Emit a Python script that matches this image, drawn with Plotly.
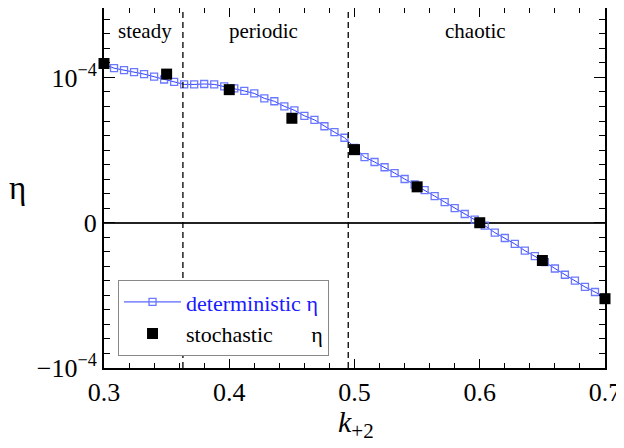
import plotly.graph_objects as go

# deterministic eta, every 0.008 in k_+2 (values in units of 1e-5)
k_det = [round(0.3 + 0.008 * i, 3) for i in range(51)]
eta_det = [10.9, 10.64, 10.5, 10.37, 10.23, 10.05, 9.86, 9.7, 9.52, 9.52,
           9.55, 9.52, 9.38, 9.25, 9.07, 8.9, 8.56, 8.36, 8.01, 7.74,
           7.36, 7.08, 6.64, 6.23, 5.85, 5.15, 4.52, 4.18, 3.82, 3.42,
           3.01, 2.63, 2.24, 1.83, 1.42, 1.01, 0.6, 0.21, -0.2, -0.68,
           -1.05, -1.46, -1.92, -2.3, -2.71, -3.15, -3.58, -3.99, -4.42, -4.77,
           -5.15]

# stochastic eta
k_sto = [0.30, 0.35, 0.40, 0.45, 0.50, 0.55, 0.60, 0.65, 0.70]
eta_sto = [10.96, 10.23, 9.16, 7.19, 5.03, 2.47, 0.0, -2.6, -5.23]

# regime boundaries and labels
bounds = [0.363, 0.495]
regimes = ["steady", "periodic", "chaotic"]
regime_x = [0.333, 0.427, 0.597]

ytick_vals = [-1e-4, 0, 1e-4]
ytick_text = ["\u221210<sup>\u22124</sup>", "0", "10<sup>\u22124</sup>"]

serif = "Liberation Serif, Times New Roman, Times, serif"

fig = go.Figure()
fig.add_trace(go.Scatter(
    x=k_det, y=[v * 1e-5 for v in eta_det], mode="lines+markers",
    name="<span style='color:#1a1aff'>deterministic \u03b7</span>",
    line=dict(color="#3040ff", width=1),
    marker=dict(symbol="square-open", size=7, color="#6a78ff",
                line=dict(width=1.3, color="#6a78ff")),
))
fig.add_trace(go.Scatter(
    x=k_sto, y=[v * 1e-5 for v in eta_sto], mode="markers",
    name="stochastic" + "\u00a0" * 7 + "\u03b7",
    marker=dict(symbol="square", size=11, color="black"),
    cliponaxis=False,
))

for b in bounds:
    fig.add_vline(x=b, line=dict(color="black", width=1.3, dash="6px,4px"))

for name, xr in zip(regimes, regime_x):
    fig.add_annotation(x=xr, y=1.32e-4, text=name, showarrow=False,
                       font=dict(family=serif, size=21, color="black"))

# axis titles placed as annotations
fig.add_annotation(xref="paper", yref="paper", x=-0.172, y=0.5, text="\u03b7",
                   xanchor="center", yanchor="middle", showarrow=False,
                   font=dict(family=serif, size=33, color="black"))
fig.add_annotation(xref="paper", yref="paper", x=0.503, y=-0.155,
                   text="<i>k</i><sub>+2</sub>", xanchor="center", yanchor="middle",
                   showarrow=False, font=dict(family=serif, size=30, color="black"))

fig.update_layout(
    width=616, height=440,
    margin=dict(l=96, r=19, t=0, b=80, autoexpand=False),
    paper_bgcolor="white", plot_bgcolor="white",
    font=dict(family=serif, size=24, color="black"),
    showlegend=True,
    legend=dict(x=0.028, y=0.033, xanchor="left", yanchor="bottom",
                bgcolor="white", bordercolor="#888888", borderwidth=1,
                font=dict(family=serif, size=22), tracegroupgap=0,
                itemwidth=57),
)
fig.update_xaxes(
    range=[0.3, 0.7], dtick=0.1, tick0=0.3, tickformat=".1f",
    showgrid=False, zeroline=False, automargin=False,
    showline=True, linecolor="black", linewidth=2, mirror="allticks",
    ticks="inside", ticklen=9, tickwidth=1.3, tickcolor="black",
    minor=dict(dtick=0.02, tick0=0.3, ticks="inside", ticklen=5, tickcolor="black"),
    tickfont=dict(family=serif, size=26),
)
fig.update_yaxes(
    range=[-1e-4, 1.478e-4], tickmode="array", tickvals=ytick_vals, ticktext=ytick_text,
    showgrid=False, zeroline=True, zerolinecolor="#222222", zerolinewidth=2,
    automargin=False,
    showline=True, linecolor="black", linewidth=2, mirror="allticks",
    ticks="inside", ticklen=11, tickwidth=1.3, tickcolor="black",
    minor=dict(tickmode="linear", dtick=1e-5, tick0=0, ticks="inside", ticklen=6,
               tickcolor="black"),
    tickfont=dict(family=serif, size=26),
)

fig.write_html("out.html")
